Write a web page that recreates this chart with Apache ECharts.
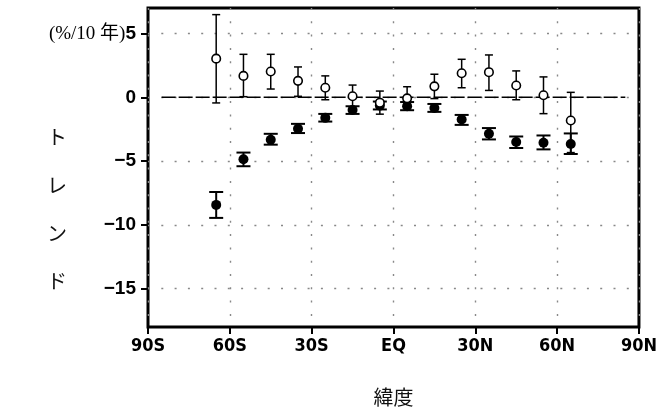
<!DOCTYPE html>
<html>
<head>
<meta charset="utf-8">
<script src="https://cdn.jsdelivr.net/npm/echarts@6/dist/echarts.min.js"></script>
<style>
  html, body { margin: 0; padding: 0; background: #fff; }
  #chart { width: 660px; height: 412px; }
</style>
</head>
<body>
<div id="chart"></div>
<script>
// 緯度帯の中心
const latitudes = [-65, -55, -45, -35, -25, -15, -5, 5, 15, 25, 35, 45, 55, 65];

// 白丸
const openValues = [3.03, 1.68, 2.02, 1.29, 0.75, 0.08, -0.42, -0.08, 0.86, 1.89, 1.97, 0.93, 0.16, -1.82];
const openLow = [-0.44, 0.05, 0.65, 0.08, -0.19, -0.75, -1.32, -0.45, -0.1, 0.75, 0.54, -0.19, -1.28, -4.33];
const openHigh = [6.48, 3.37, 3.37, 2.38, 1.68, 0.96, 0.49, 0.83, 1.81, 2.98, 3.32, 2.07, 1.6, 0.39];

// 黒丸
const filledValues = [-8.43, -4.86, -3.32, -2.47, -1.61, -0.99, -0.65, -0.7, -0.83, -1.74, -2.86, -3.5, -3.56, -3.66];
const filledLow = [-9.45, -5.4, -3.71, -2.8, -1.9, -1.3, -0.95, -1.01, -1.14, -2.16, -3.3, -3.97, -4.08, -4.44];
const filledHigh = [-7.42, -4.33, -2.86, -2.08, -1.3, -0.7, -0.33, -0.37, -0.52, -1.38, -2.41, -3.07, -2.99, -2.83];

const yTicks = [-15, -10, -5, 0, 5];
const xTickLabels = { '-90': '90S', '-60': '60S', '-30': '30S', '0': 'EQ', '30': '30N', '60': '60N', '90': '90N' };
const zeroLine = [[-85, 0], [85, 0]];

const chart = echarts.init(document.getElementById('chart'));

function errorBar(capHalf, width) {
  return function (params, api) {
    const x = api.value(0);
    const lo = api.coord([x, api.value(1)]);
    const hi = api.coord([x, api.value(2)]);
    const style = { stroke: '#000', lineWidth: width };
    return {
      type: 'group',
      children: [
        { type: 'line', shape: { x1: lo[0], y1: lo[1], x2: hi[0], y2: hi[1] }, style: style },
        { type: 'line', shape: { x1: hi[0] - capHalf, y1: hi[1], x2: hi[0] + capHalf, y2: hi[1] }, style: style },
        { type: 'line', shape: { x1: lo[0] - capHalf, y1: lo[1], x2: lo[0] + capHalf, y2: lo[1] }, style: style }
      ]
    };
  };
}

const gridDots = { show: true, lineStyle: { color: '#888', width: 1.4, type: [2, 11.3] } };

chart.setOption({
  animation: false,
  grid: { left: 148, right: 20, top: 8, bottom: 84, show: true, borderColor: '#000', borderWidth: 3 },
  xAxis: {
    type: 'value', min: -90, max: 90, interval: 30,
    name: '緯度', nameLocation: 'middle', nameGap: 60,
    nameTextStyle: { fontFamily: 'Noto Sans CJK JP', fontSize: 20, color: '#111' },
    axisLine: { show: false, onZero: false },
    axisTick: { show: true, length: 7, lineStyle: { color: '#000', width: 2 } },
    axisLabel: {
      margin: 10, color: '#000', fontSize: 18, fontWeight: 'bold',
      fontFamily: 'Liberation Sans Narrow, DejaVu Sans Condensed, Liberation Sans',
      formatter: v => xTickLabels[String(v)]
    },
    splitLine: gridDots
  },
  yAxis: {
    type: 'value', min: -18, max: 7,
    axisLine: { show: false, onZero: false },
    axisTick: { show: true, length: 7, customValues: yTicks, lineStyle: { color: '#000', width: 2 } },
    axisLabel: {
      margin: 12, color: '#000', fontSize: 19, fontWeight: 'bold', fontFamily: 'Liberation Sans',
      customValues: yTicks,
      formatter: v => v === 5 ? '{u|(%/10 年)}5' : String(v).replace('-', '−'),
      rich: { u: { fontFamily: 'Liberation Serif, Noto Sans CJK JP', fontSize: 19, fontWeight: 'normal', color: '#000' } }
    },
    splitLine: gridDots
  },
  graphic: [{
    type: 'text', left: 47, top: 113,
    style: {
      text: 'ト\nレ\nン\nド', fontFamily: 'Noto Sans CJK JP', fontSize: 20, fontWeight: 'normal',
      lineHeight: 48, fill: '#111', align: 'center'
    }
  }],
  series: [
    {
      type: 'line', data: zeroLine, symbol: 'none', silent: true,
      lineStyle: { color: '#000', width: 1.5, type: [14, 3] }, z: 1
    },
    {
      type: 'custom', renderItem: errorBar(4, 1.5), z: 2,
      data: latitudes.map((x, i) => [x, openLow[i], openHigh[i]])
    },
    {
      type: 'custom', renderItem: errorBar(7, 2), z: 2,
      data: latitudes.map((x, i) => [x, filledLow[i], filledHigh[i]])
    },
    {
      type: 'scatter', symbol: 'circle', symbolSize: 10, z: 3,
      itemStyle: { color: '#000', opacity: 1 },
      data: latitudes.map((x, i) => [x, filledValues[i]])
    },
    {
      type: 'scatter', symbol: 'circle', symbolSize: 8.5, z: 4,
      itemStyle: { color: '#fff', borderColor: '#000', borderWidth: 1.6, opacity: 1 },
      data: latitudes.map((x, i) => [x, openValues[i]])
    }
  ]
});
</script>
</body>
</html>
